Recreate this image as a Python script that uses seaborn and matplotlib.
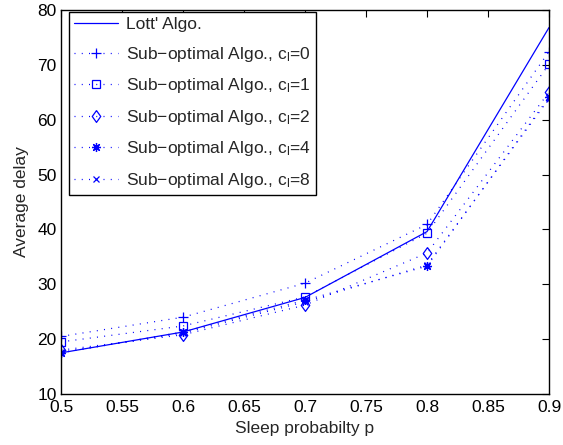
import matplotlib
matplotlib.use("Agg")
import matplotlib.pyplot as plt
import seaborn as sns

p = [0.5, 0.6, 0.7, 0.8, 0.9]
lott = [17.5, 21.3, 27.6, 39.6, 76.8]
sub_c0 = [20.5, 24.0, 30.2, 40.9, 72.4]
sub_c1 = [19.5, 22.4, 27.7, 39.3, 70.1]
sub_c2 = [18.0, 20.8, 26.2, 35.7, 65.0]
sub_c4 = [17.5, 21.3, 27.1, 33.3, 64.1]
sub_c8 = [17.6, 21.1, 26.8, 33.5, 63.8]

x_ticks = [0.5, 0.55, 0.6, 0.65, 0.7, 0.75, 0.8, 0.85, 0.9]
x_ticklabels = ["0.5", "0.55", "0.6", "0.65", "0.7", "0.75", "0.8", "0.85", "0.9"]
y_ticks = [10, 20, 30, 40, 50, 60, 70, 80]

sns.set_style("white")
plt.rcParams["font.family"] = ["Liberation Sans", "DejaVu Sans"]
plt.rcParams["mathtext.default"] = "regular"

fig = plt.figure(figsize=(5.63, 4.45), dpi=100)
ax = fig.add_axes([61/563, 1-394/445, (549-61)/563, (394-10)/445])

blue = "#0000ff"
diamond = [(0, 1), (0.72, 0), (0, -1), (-0.72, 0), (0, 1)]
series = [
    (lott, None, 0, "-", "Lott' Algo."),
    (sub_c0, "+", 7, (0, (0.8, 5)), "Sub\u2212optimal Algo., c$_{l}$=0"),
    (sub_c1, "s", 6, (0, (0.8, 5)), "Sub\u2212optimal Algo., c$_{l}$=1"),
    (sub_c2, diamond, 8.5, (0, (0.8, 5)), "Sub\u2212optimal Algo., c$_{l}$=2"),
    (sub_c4, (8, 2, 0), 6.5, (0, (0.8, 5)), "Sub\u2212optimal Algo., c$_{l}$=4"),
    (sub_c8, "x", 4.5, (0, (0.8, 5)), "Sub\u2212optimal Algo., c$_{l}$=8"),
]
for vals, mk, ms, ls, lab in series:
    n0 = len(ax.lines)
    sns.lineplot(x=p, y=vals, ax=ax, sort=False, label=lab, color=blue,
                 linewidth=0.9)
    for line in ax.lines[n0:]:
        line.set_color((0.0, 0.0, 1.0, 1.0))
        line.set_linestyle(ls)
        if mk is not None:
            line.set_marker(mk)
            line.set_markersize(ms)
            line.set_markerfacecolor("none")
            line.set_markeredgecolor((0.0, 0.0, 1.0, 1.0))
            line.set_markeredgewidth(0.9)

ax.set_xlim(0.5, 0.9)
ax.set_ylim(10, 80)
ax.set_xticks(x_ticks)
ax.set_xticklabels(x_ticklabels)
ax.set_yticks(y_ticks)
ax.tick_params(direction="in", length=5, width=0.8, top=True, right=True,
               labelsize=12.5, colors="black")
ax.tick_params(axis="x", pad=4)
ax.tick_params(axis="y", pad=3)
for s in ax.spines.values():
    s.set_visible(True)
    s.set_color("black")
    s.set_linewidth(1.0)
ax.set_xlabel("Sleep probabilty p", fontsize=12.5, labelpad=5)
ax.set_ylabel("Average delay", fontsize=12.5, labelpad=6)

leg = ax.legend(loc="upper left", bbox_to_anchor=(69/563, 1-12/445),
                bbox_transform=fig.transFigure, borderaxespad=0,
                fontsize=12.5, frameon=True, fancybox=False,
                edgecolor="black", framealpha=1, handlelength=2.5,
                handletextpad=0.5, labelspacing=0.72, borderpad=0.3)
leg.get_frame().set_linewidth(1.0)

fig.savefig("out.png", dpi=100)
